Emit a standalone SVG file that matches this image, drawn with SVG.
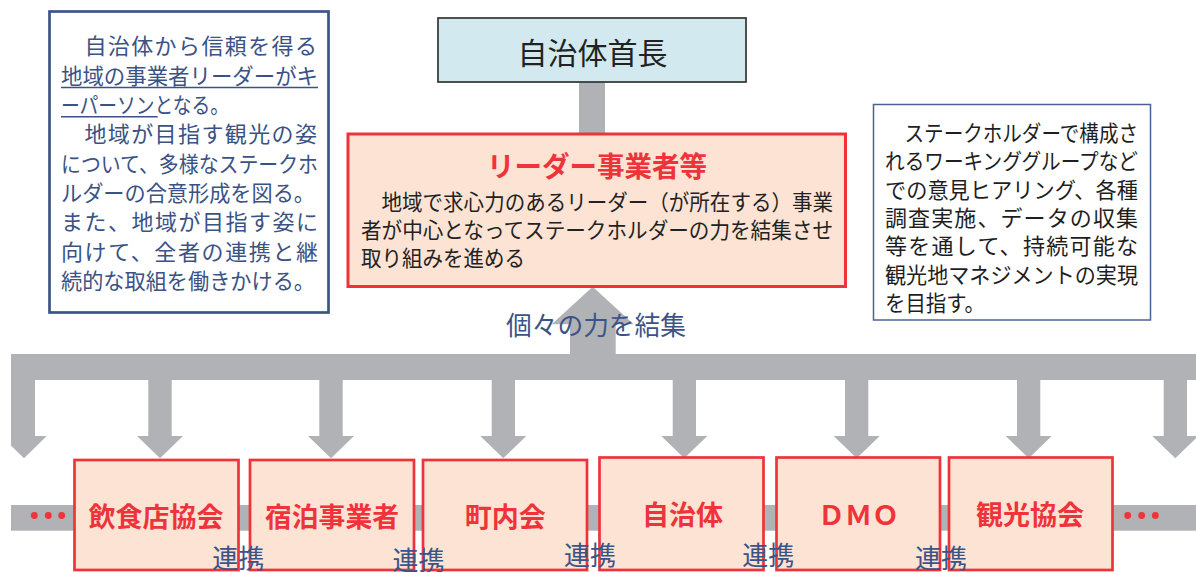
<svg xmlns="http://www.w3.org/2000/svg" width="1196" height="572" viewBox="0 0 1196 572">
<style>
text{font-family:"Noto Sans CJK JP","Noto Sans",sans-serif}
.gray{fill:#B1B2B6}
.note{fill:#3A5284;font-size:22px}
.note2{fill:#1E1E1E;font-size:22px}
.body{fill:#222;font-size:21.5px}
.org{fill:#FCE3D3;stroke:#EE333B;stroke-width:2.7}
.orgt{fill:#EE333B;font-size:27px;font-weight:bold;text-anchor:middle}
.dot{fill:#EE333B}
.rk{fill:#3B5486;font-size:26px}
.ul{stroke:#3A5284;stroke-width:1.5}
</style>
<rect width="1196" height="572" fill="#ffffff"/>
<g id="connectors">
  <rect class="gray" x="579" y="82" width="26" height="52"/>
  <rect class="gray" x="11" y="354" width="1185" height="26"/>
  <polygon class="gray" points="570,356 570,324.3 551.7,324.3 592.7,286.7 633.7,324.3 615.7,324.3 615.7,356"/>
  <polygon class="gray" points="11,378 35,378 35,436 46.7,436 24,458.3 11,445.6"/>
  <polygon class="gray" points="148.3,378 171.7,378 171.7,436 183,436 160,458.3 137,436 148.3,436"/>
  <polygon class="gray" points="319.3,378 342.7,378 342.7,436 354,436 331,458.3 308,436 319.3,436"/>
  <polygon class="gray" points="491.7,378 515,378 515,436 526.3,436 503.3,458.3 480.3,436 491.7,436"/>
  <polygon class="gray" points="672.7,378 696,378 696,436 707.3,436 684.3,458.3 661.3,436 672.7,436"/>
  <polygon class="gray" points="845,378 868.3,378 868.3,436 879.7,436 856.7,458.3 833.7,436 845,436"/>
  <polygon class="gray" points="1017,378 1040.3,378 1040.3,436 1051.7,436 1028.7,458.3 1005.7,436 1017,436"/>
  <polygon class="gray" points="1163.7,378 1187,378 1187,436 1198.3,436 1175.3,458.3 1152.3,436 1163.7,436"/>
  <rect class="gray" x="11" y="505" width="1185" height="25.7"/>
  <text x="506" y="335" style="fill:#3B5486;font-size:26px" textLength="180" lengthAdjust="spacingAndGlyphs">個々の力を結集</text>
  <circle class="dot" cx="34.3" cy="515.5" r="3.4"/>
  <circle class="dot" cx="48.3" cy="515.5" r="3.4"/>
  <circle class="dot" cx="61.7" cy="515.5" r="3.4"/>
  <circle class="dot" cx="1127.7" cy="515.5" r="3.4"/>
  <circle class="dot" cx="1141.7" cy="515.5" r="3.4"/>
  <circle class="dot" cx="1155.3" cy="515.5" r="3.4"/>
</g>
<g id="note-left">
  <rect x="49.5" y="11.5" width="279" height="301" fill="#ffffff" stroke="#3D5585" stroke-width="2.7"/>
  <text class="note" x="61" y="54.4" textLength="256" lengthAdjust="spacing">　自治体から信頼を得る</text>
  <text class="note" x="61" y="83.7" textLength="257" lengthAdjust="spacingAndGlyphs">地域の事業者リーダーがキ</text>
  <text class="note" x="61" y="113" textLength="168" lengthAdjust="spacingAndGlyphs">ーパーソンとなる。</text>
  <text class="note" x="61" y="142.3" textLength="256" lengthAdjust="spacing">　地域が目指す観光の姿</text>
  <text class="note" x="61" y="171.6" textLength="257" lengthAdjust="spacingAndGlyphs">について、多様なステークホ</text>
  <text class="note" x="61" y="200.9" textLength="254" lengthAdjust="spacingAndGlyphs">ルダーの合意形成を図る。</text>
  <text class="note" x="61" y="230.2" textLength="257" lengthAdjust="spacing">また、地域が目指す姿に</text>
  <text class="note" x="61" y="259.5" textLength="257" lengthAdjust="spacing">向けて、全者の連携と継</text>
  <text class="note" x="61" y="288.8" textLength="254" lengthAdjust="spacingAndGlyphs">続的な取組を働きかける。</text>
  <line class="ul" x1="61" y1="87.5" x2="318" y2="87.5"/>
  <line class="ul" x1="61" y1="116.8" x2="157.7" y2="116.8"/>
</g>
<g id="mayor">
  <rect x="438" y="18" width="308" height="64" fill="#D2EAEF" stroke="#333333" stroke-width="1.7"/>
  <text x="592.5" y="64" style="fill:#222;font-size:30px;text-anchor:middle">自治体首長</text>
</g>
<g id="leader">
  <rect x="348" y="134" width="497.5" height="152.5" fill="#FCE3D3" stroke="#EE333B" stroke-width="3"/>
  <text class="orgt" x="597" y="176.5" style="font-size:28px" textLength="220" lengthAdjust="spacingAndGlyphs">リーダー事業者等</text>
  <text class="body" x="361" y="210" textLength="472" lengthAdjust="spacingAndGlyphs">　地域で求心力のあるリーダー（が所在する）事業</text>
  <text class="body" x="361" y="238" textLength="472" lengthAdjust="spacingAndGlyphs">者が中心となってステークホルダーの力を結集させ</text>
  <text class="body" x="361" y="266" textLength="164" lengthAdjust="spacingAndGlyphs">取り組みを進める</text>
</g>
<g id="note-right">
  <rect x="873.5" y="104.5" width="277" height="215.5" fill="#ffffff" stroke="#4A6394" stroke-width="1.5"/>
  <text class="note2" x="885" y="141" textLength="253" lengthAdjust="spacingAndGlyphs">　ステークホルダーで構成さ</text>
  <text class="note2" x="885" y="169.3" textLength="253" lengthAdjust="spacingAndGlyphs">れるワーキンググループなど</text>
  <text class="note2" x="885" y="197.6" textLength="253" lengthAdjust="spacingAndGlyphs">での意見ヒアリング、各種</text>
  <text class="note2" x="885" y="226" textLength="253" lengthAdjust="spacing">調査実施、データの収集</text>
  <text class="note2" x="885" y="254.3" textLength="253" lengthAdjust="spacing">等を通して、持続可能な</text>
  <text class="note2" x="885" y="282.6" textLength="253" lengthAdjust="spacingAndGlyphs">観光地マネジメントの実現</text>
  <text class="note2" x="885" y="311" textLength="100" lengthAdjust="spacingAndGlyphs">を目指す。</text>
</g>
<g id="org-restaurant">
  <rect class="org" x="74.5" y="460" width="164" height="110"/>
  <text class="orgt" x="156" y="527" textLength="135" lengthAdjust="spacingAndGlyphs">飲食店協会</text>
</g>
<g id="org-lodging">
  <rect class="org" x="250" y="460" width="164" height="110"/>
  <text class="orgt" x="332" y="527" textLength="134" lengthAdjust="spacingAndGlyphs">宿泊事業者</text>
</g>
<g id="org-town">
  <rect class="org" x="423" y="460" width="164" height="110"/>
  <text class="orgt" x="505.3" y="527">町内会</text>
</g>
<g id="org-municipality">
  <rect class="org" x="599.5" y="457.5" width="164" height="112.5"/>
  <text class="orgt" x="682.5" y="524.5">自治体</text>
</g>
<g id="org-dmo">
  <rect class="org" x="776.5" y="457.5" width="163.5" height="112.5"/>
  <text class="orgt" x="858.5" y="524.5">ＤＭＯ</text>
</g>
<g id="org-tourism">
  <rect class="org" x="949" y="457.5" width="163.5" height="112.5"/>
  <text class="orgt" x="1030" y="524.5" textLength="108" lengthAdjust="spacingAndGlyphs">観光協会</text>
</g>
<g id="links">
  <text class="rk" x="212.3" y="568.3">連携</text>
  <text class="rk" x="392.4" y="569.6">連携</text>
  <text class="rk" x="564" y="565">連携</text>
  <text class="rk" x="742.3" y="565">連携</text>
  <text class="rk" x="915" y="568.3">連携</text>
</g>
</svg>
